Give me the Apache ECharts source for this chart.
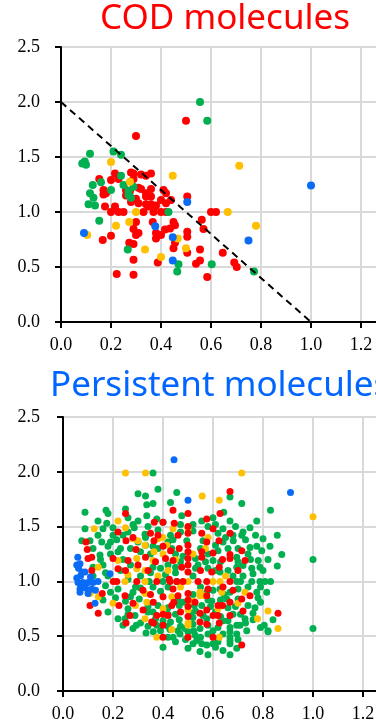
<!DOCTYPE html>
<html>
<head>
<meta charset="utf-8">
<script src="https://cdn.jsdelivr.net/npm/echarts@6/dist/echarts.min.js"></script>
<style>
  html, body { margin: 0; padding: 0; background: #fff; }
  #chart { width: 376px; height: 727px; }
</style>
</head>
<body>
<div id="chart"></div>
<script>
// COD molecules (top panel), [x, y] pairs
const codRed = [
  [0.30,1.69],[0.50,1.83],
  [0.216,1.35],[0.28,1.36],[0.29,1.35],[0.32,1.34],[0.36,1.35],[0.34,1.33],
  [0.153,1.30],[0.20,1.29],[0.23,1.30],[0.29,1.30],[0.17,1.20],[0.18,1.17],
  [0.31,1.22],[0.26,1.20],[0.32,1.21],[0.36,1.21],[0.276,1.19],[0.17,1.16],[0.34,1.17],[0.26,1.15],
  [0.34,1.14],[0.30,1.12],[0.36,1.14],[0.41,1.20],[0.42,1.17],[0.44,1.11],[0.40,1.11],[0.42,1.08],[0.38,1.06],
  [0.31,1.08],[0.34,1.07],[0.36,1.07],[0.28,1.09],[0.35,1.05],[0.376,1.05],[0.176,1.05],[0.216,1.05],
  [0.20,1.00],[0.23,1.00],[0.25,1.00],[0.33,1.00],[0.37,1.00],[0.40,1.00],[0.42,1.00],
  [0.505,1.14],[0.60,1.00],[0.62,1.00],
  [0.30,0.91],[0.367,0.91],[0.45,0.91],[0.563,0.93],
  [0.20,0.785],[0.167,0.745],[0.273,0.72],[0.29,0.71],[0.30,0.79],[0.31,0.81],[0.29,0.845],
  [0.29,0.565],[0.223,0.436],[0.29,0.43],[0.387,0.54],
  [0.38,0.81],[0.40,0.79],[0.38,0.76],[0.416,0.84],[0.436,0.85],[0.456,0.88],
  [0.456,0.72],[0.45,0.67],[0.505,0.82],[0.505,0.775],[0.505,0.63],
  [0.556,0.66],[0.54,0.53],[0.556,0.56],[0.57,0.845],[0.585,0.41],[0.647,0.63],
  [0.693,0.54],[0.703,0.50]
];
const codGreen = [
  [0.556,2.00],[0.585,1.83],[0.116,1.53],[0.085,1.44],[0.095,1.46],[0.10,1.43],
  [0.21,1.55],[0.24,1.52],[0.24,1.33],
  [0.127,1.245],[0.16,1.27],[0.25,1.245],[0.29,1.23],[0.20,1.20],[0.116,1.17],
  [0.13,1.13],[0.27,1.19],[0.27,1.155],[0.28,1.13],[0.136,1.06],[0.11,1.07],
  [0.43,1.00],[0.153,0.92],[0.267,0.66],[0.47,0.525],[0.465,0.46],[0.603,0.525],[0.772,0.46]
];
const codYellow = [
  [0.20,1.455],[0.447,1.33],[0.713,1.42],[0.276,1.275],[0.30,1.00],[0.667,1.00],
  [0.22,0.875],[0.273,0.91],[0.78,0.875],[0.105,0.79],[0.336,0.66],[0.40,0.59],
  [0.467,0.76],[0.50,0.67]
];
const codBlue = [
  [1.00,1.24],[0.505,1.09],[0.092,0.81],[0.377,0.87],[0.447,0.77],[0.447,0.56],[0.75,0.74]
];
// dashed reference line
const refLineX = [0, 1];
const refLineY = [2, 0];

// Persistent molecules (bottom panel)
const perGreen = [
  [0.36,1.99],[0.38,1.84],[0.30,1.80],[0.33,1.78],[0.455,1.81],[0.335,1.70],[0.36,1.71],[0.43,1.72],
  [0.668,1.77],[0.715,1.71],[0.83,1.65],
  [0.088,1.63],[0.172,1.65],[0.18,1.62],[0.25,1.66],[0.475,1.60],[0.335,1.60],[0.375,1.57],[0.40,1.54],
  [0.14,1.55],[0.175,1.53],[0.555,1.55],[0.60,1.58],[0.643,1.63],[0.668,1.55],[0.775,1.55],[0.748,1.49],
  [0.088,1.48],[0.16,1.48],[0.20,1.49],[0.285,1.49],[0.47,1.45],[0.62,1.44],[0.72,1.45],[0.715,1.42],
  [0.857,1.42],[0.80,1.39],
  [0.328,1.43],[0.075,1.37],[0.108,1.37],[0.155,1.36],[0.19,1.36],[0.215,1.38],[0.435,1.30],[0.495,1.37],
  [0.56,1.37],[0.64,1.36],[0.681,1.37],
  [0.775,1.32],[0.828,1.32],[0.795,1.28],[0.748,1.31],[0.875,1.245],[1.00,1.20],[0.857,1.14],
  [0.148,1.24],[0.19,1.25],[0.60,1.19],[0.695,1.22],[0.781,1.19],[0.788,1.13],[0.755,1.12],[0.72,1.145],
  [0.62,1.28],[0.53,1.21],[0.695,1.13],[0.628,1.085],
  [0.24,1.42],[0.27,1.30],[0.31,1.27],[0.33,1.33],[0.35,1.25],[0.38,1.30],[0.42,1.36],[0.45,1.25],
  [0.47,1.18],[0.42,1.15],[0.39,1.12],[0.35,1.08],[0.31,1.05],[0.27,1.15],[0.24,1.20],[0.23,1.10],
  [0.16,1.15],[0.18,1.05],[0.12,1.05],[0.55,1.30],[0.58,1.25],[0.58,1.12],[0.54,1.15],[0.66,1.30],
  [0.70,1.30],[0.63,1.18],[0.66,1.10],[0.74,1.25],[0.72,1.05],[0.52,1.05],[0.45,1.08],[0.41,1.06],
  [0.30,1.36],[0.26,1.45],[0.38,1.47],[0.43,1.42],[0.52,1.46],[0.58,1.50],[0.64,1.48],[0.68,1.42],
  [0.73,1.38],[0.52,1.52],[0.30,1.55],[0.26,1.58],[0.20,1.42],[0.12,1.30],[0.15,1.20],
  [0.23,1.30],[0.33,1.40],[0.36,1.32],[0.44,1.38],[0.48,1.23],[0.57,1.18],[0.61,1.33],[0.65,1.40],
  [0.70,1.18],[0.75,1.20],[0.77,1.42],[0.69,1.50],[0.61,1.52],[0.47,1.52],[0.34,1.50],[0.28,1.52],
  [0.22,1.27],[0.18,1.32],[0.14,1.42],[0.12,1.13],[0.17,1.08],[0.26,1.02],[0.36,1.13],[0.45,1.13],
  [0.53,1.12],[0.61,1.10],[0.68,1.05],[0.76,1.07],[0.80,1.10],[0.82,1.20],
  [0.345,1.00],[0.40,1.00],[0.455,1.00],[0.695,1.00],[0.71,1.00],[0.755,1.00],[0.788,1.00],[0.808,1.00],[0.83,1.00],
  [0.28,0.90],[0.39,0.91],[0.52,0.88],[0.575,0.90],[0.668,0.90],[0.628,0.93],[0.645,0.88],[0.775,0.90],
  [0.815,0.90],[0.79,0.95],[0.74,0.95],[0.42,0.95],[0.31,0.94],[0.22,0.93],[0.17,0.96],
  [0.29,0.95],[0.36,0.95],[0.55,0.95],[0.60,0.92],[0.70,0.93],[0.78,0.85],
  [0.18,0.72],[0.22,0.66],[0.248,0.66],[0.288,0.69],[0.34,0.72],[0.38,0.78],[0.42,0.76],[0.465,0.78],
  [0.525,0.78],[0.555,0.78],[0.595,0.82],[0.69,0.77],[0.74,0.78],[0.768,0.76],[0.305,0.84],[0.25,0.82],
  [0.21,0.85],[0.46,0.83],[0.58,0.83],[0.655,0.84],[0.70,0.84],[0.26,0.75],
  [0.16,0.83],[0.19,0.90],[0.27,0.86],[0.34,0.77],[0.37,0.66],[0.40,0.64],[0.45,0.70],[0.48,0.81],
  [0.53,0.73],[0.56,0.69],[0.59,0.77],[0.63,0.83],[0.66,0.76],[0.71,0.70],[0.73,0.62],[0.76,0.71],
  [0.79,0.81],[0.66,0.64],[0.58,0.60],[0.52,0.61],[0.46,0.55],[0.39,0.55],[0.34,0.59],[0.26,0.70],
  [0.24,0.60],[0.42,0.59],[0.63,0.68],
  [0.42,0.70],[0.465,0.65],[0.52,0.67],[0.575,0.66],[0.64,0.64],[0.68,0.70],[0.695,0.60],[0.728,0.66],
  [0.76,0.65],[0.805,0.60],[0.36,0.72],[0.31,0.62],[0.43,0.63],[0.51,0.71],[0.61,0.72],
  [0.28,0.57],[0.293,0.60],[0.375,0.60],[0.428,0.56],[0.47,0.59],[0.488,0.57],[0.522,0.55],[0.548,0.57],
  [0.60,0.55],[0.62,0.58],[0.668,0.58],[0.708,0.60],[0.735,0.55],[0.82,0.54],[0.79,0.58],
  [0.332,0.53],[0.361,0.54],[0.42,0.49],[0.44,0.49],[0.468,0.52],[0.50,0.54],[0.528,0.51],[0.55,0.49],
  [0.668,0.49],[0.668,0.54],[0.695,0.52],[0.58,0.52],[0.49,0.47],[0.52,0.43],[0.60,0.43],[0.64,0.52],[0.70,0.47],
  [0.535,0.46],[0.555,0.43],[0.575,0.42],[0.50,0.39],[0.40,0.40],[0.548,0.36],[0.58,0.33],[0.64,0.37],
  [0.668,0.33],[0.695,0.39],[0.668,0.46],[0.668,0.43],[0.62,0.45],[0.45,0.45],[0.61,0.40],
  [1.00,0.57],[0.82,0.55],[0.84,0.65]
];
const perYellow = [
  [0.25,1.99],[0.33,1.99],[0.715,1.99],[0.557,1.78],[0.625,1.74],[1.00,1.59],
  [0.22,1.55],[0.125,1.48],[0.25,1.49],[0.44,1.48],[0.50,1.48],
  [0.28,1.39],[0.30,1.37],[0.328,1.33],[0.38,1.39],[0.40,1.40],[0.415,1.33],[0.364,1.27],[0.40,1.25],
  [0.22,1.19],[0.295,1.21],[0.36,1.19],[0.141,1.13],[0.295,1.115],[0.328,1.10],
  [0.248,1.00],[0.328,1.00],[0.50,1.00],[0.60,1.00],[0.628,1.00],
  [0.108,0.89],[0.141,0.86],[0.328,0.89],[0.435,0.86],[0.548,0.87],[0.548,0.90],[0.568,0.87],[0.635,0.90],[0.728,0.90],
  [0.20,0.80],[0.335,0.81],[0.50,0.74],[0.62,0.75],[0.70,0.80],[0.82,0.73],[0.86,0.57],[0.778,0.66],
  [0.328,0.66],[0.435,0.56],[0.50,0.60],[0.50,0.62],[0.375,0.49],[0.625,0.49],
  [0.45,1.20],[0.52,1.25],[0.57,1.30],[0.42,1.10],[0.38,1.05],[0.26,1.06],[0.47,0.95],[0.52,0.82],
  [0.40,0.75],[0.29,0.78],[0.58,1.40],[0.65,1.05]
];
const perRed = [
  [0.668,1.82],[0.25,1.62],[0.44,1.65],[0.50,1.62],[0.628,1.62],[0.575,1.57],
  [0.22,1.45],[0.365,1.54],[0.40,1.54],[0.445,1.53],[0.555,1.44],[0.60,1.48],[0.668,1.44],
  [0.092,1.36],[0.097,1.29],[0.252,1.37],[0.364,1.37],[0.465,1.30],[0.50,1.33],[0.50,1.27],[0.50,1.21],
  [0.50,1.15],[0.50,1.085],[0.575,1.36],[0.624,1.37],[0.715,1.28],[0.668,1.245],[0.668,1.21],[0.638,1.20],
  [0.728,1.19],[0.555,1.27],[0.555,1.22],[0.595,1.085],[0.625,1.13],
  [0.10,1.21],[0.115,1.22],[0.20,1.21],[0.26,1.19],[0.41,1.21],[0.292,1.29],[0.44,1.19],[0.475,1.13],
  [0.115,1.10],[0.22,1.115],[0.25,1.10],[0.34,1.10],[0.425,1.02],[0.50,1.44],[0.50,1.50],[0.38,1.42],
  [0.201,1.00],[0.215,1.00],[0.295,1.00],[0.375,1.00],[0.428,1.00],[0.455,1.00],[0.48,1.00],[0.54,1.00],[0.575,1.00],[0.668,1.00],
  [0.157,0.89],[0.248,0.87],[0.40,0.86],[0.46,0.87],[0.50,0.89],[0.50,0.83],[0.575,0.87],[0.748,0.87],[0.715,0.84],
  [0.108,0.78],[0.141,0.71],[0.224,0.78],[0.28,0.80],[0.361,0.81],[0.435,0.78],[0.443,0.81],[0.50,0.77],
  [0.528,0.81],[0.548,0.71],[0.575,0.74],[0.62,0.78],[0.638,0.78],[0.668,0.81],[0.86,0.71],[0.72,0.73],
  [0.268,0.69],[0.375,0.69],[0.40,0.70],[0.42,0.69],[0.50,0.68],[0.548,0.63],[0.60,0.69],[0.62,0.69],[0.668,0.69],
  [0.252,0.62],[0.355,0.63],[0.362,0.62],[0.40,0.60],[0.575,0.61],[0.625,0.62],
  [0.40,0.49],[0.50,0.49],[0.60,0.49],[0.715,0.42],
  [0.30,1.15],[0.33,1.22],[0.37,1.18],[0.43,1.28],[0.40,1.32],[0.35,1.44],[0.28,1.40],[0.46,1.42],
  [0.55,1.10],[0.60,1.26],[0.70,1.10],[0.32,0.92],[0.44,0.93],[0.35,0.88],[0.47,0.72],[0.32,0.74],
  [0.58,0.93],[0.64,0.95],[0.68,0.92]
];
const perBlue = [
  [0.444,2.11],[0.91,1.81],[0.50,1.74],
  [0.059,1.22],[0.055,1.15],[0.068,1.16],[0.062,1.12],[0.075,1.085],[0.088,1.085],[0.06,0.99],[0.08,0.99],
  [0.10,0.99],[0.12,0.99],[0.14,1.00],[0.068,0.93],[0.09,0.94],[0.115,0.93],[0.13,0.92],[0.068,0.90],
  [0.10,0.89],[0.128,0.80],[0.188,1.07],[0.07,1.05],[0.055,1.03],[0.11,1.04],[0.085,0.96],[0.07,0.97]
];

const RED = '#FF0000', GREEN = '#00B050', YELLOW = '#FFC000', BLUE = '#0A6CF5';
const SERIF = '"Times New Roman", "Liberation Serif", "DejaVu Serif", serif';

function xAxisFor(gridIndex) {
  return {
    gridIndex: gridIndex, type: 'value', min: 0, max: 1.4, interval: 0.2,
    axisLine: { show: true, onZero: false, lineStyle: { color: '#000', width: 2 } },
    axisTick: { show: true, length: 6, lineStyle: { color: '#000', width: 2 } },
    axisLabel: { margin: 14, color: '#000', fontFamily: SERIF, fontSize: 18,
      formatter: v => v.toFixed(1) },
    splitLine: { show: true, lineStyle: { color: '#D9D9D9', width: 2 } }
  };
}
function yAxisFor(gridIndex, margin) {
  return {
    gridIndex: gridIndex, type: 'value', min: 0, max: 2.5, interval: 0.5,
    axisLine: { show: true, onZero: false, lineStyle: { color: '#000', width: 2 } },
    axisTick: { show: true, length: 6, lineStyle: { color: '#000', width: 2 } },
    axisLabel: { margin: margin, color: '#000', fontFamily: SERIF, fontSize: 18,
      formatter: v => v.toFixed(1) },
    splitLine: { show: true, lineStyle: { color: '#D9D9D9', width: 2 } }
  };
}
function dots(data, color, size, idx) {
  return { type: 'scatter', xAxisIndex: idx, yAxisIndex: idx, data: data,
    symbolSize: size, itemStyle: { color: color, opacity: 1 }, silent: true };
}

const chart = echarts.init(document.getElementById('chart'));
chart.setOption({
  animation: false,
  title: [
    { text: 'COD molecules', left: 100, top: 2, padding: 0,
      textStyle: { color: RED, fontFamily: 'Noto Sans', fontSize: 35, fontWeight: 'normal' } },
    { text: 'Persistent molecules', left: 50, top: 369, padding: 0,
      textStyle: { color: '#0066FF', fontFamily: 'Noto Sans', fontSize: 35, fontWeight: 'normal' } }
  ],
  // plot areas run past the right edge of the page (the picture is cropped there)
  grid: [
    { left: 61, top: 47, width: 350, height: 275, outerBoundsMode: 'none', containLabel: false,
      show: true, borderColor: '#000', borderWidth: 2 },
    { left: 63, top: 417, width: 350, height: 274, outerBoundsMode: 'none', containLabel: false,
      show: true, borderColor: '#000', borderWidth: 2 }
  ],
  xAxis: [xAxisFor(0), xAxisFor(1)],
  yAxis: [yAxisFor(0, 21), yAxisFor(1, 23)],
  series: [
    dots(codRed, RED, 8, 0),
    dots(codGreen, GREEN, 8, 0),
    dots(codYellow, YELLOW, 8, 0),
    dots(codBlue, BLUE, 8, 0),
    {
      type: 'line', xAxisIndex: 0, yAxisIndex: 0, z: 5, silent: true,
      data: refLineX.map((x, i) => [x, refLineY[i]]),
      symbol: 'none', lineStyle: { color: '#000', width: 2, type: [7, 5] }
    },
    dots(perGreen, GREEN, 7, 1),
    dots(perYellow, YELLOW, 7, 1),
    dots(perRed, RED, 7, 1),
    dots(perBlue, BLUE, 7, 1)
  ]
});
</script>
</body>
</html>
